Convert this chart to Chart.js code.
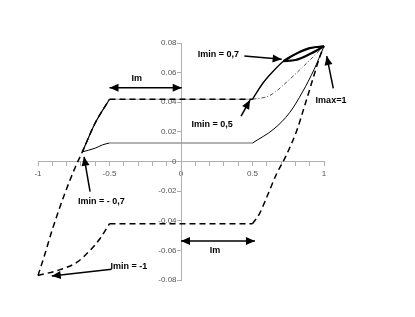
<!DOCTYPE html>
<html>
<head>
<meta charset="utf-8">
<script src="https://cdn.jsdelivr.net/npm/chart.js@4.4.1/dist/chart.umd.min.js"></script>
<style>
html,body{margin:0;padding:0;background:#fff;}
#wrap{width:415px;height:317px;}
</style>
</head>
<body>
<div id="wrap"><canvas id="loopChart" width="415" height="317"></canvas></div>
<script>
// grand cycle (Imin = -1), branche montante
var upLeftX = [-1, -0.95, -0.9, -0.81, -0.74, -0.69, -0.6, -0.5];
var upLeftY = [-0.077, -0.062, -0.046, -0.021, -0.004, 0.0065, 0.026, 0.042];
var flatX = [-0.5, 0.5];
var upFlatY = [0.042, 0.042];
var upRightX = [0.5, 0.566, 0.636, 0.716, 0.8, 0.9, 1];
var upRightY = [0.042, 0.052, 0.06, 0.0677, 0.0725, 0.0765, 0.0778];
// grand cycle, branche descendante
var downRightX = [0.5, 0.55, 0.6, 0.67, 0.73, 0.81, 0.85, 0.92, 0.97, 1];
var downRightY = [-0.042, -0.035, -0.024, -0.008, 0.003, 0.021, 0.033, 0.055, 0.0705, 0.0778];
var downFlatY = [-0.042, -0.042];
var downLeftX = [-1, -0.846, -0.727, -0.636, -0.566, -0.5];
var downLeftY = [-0.077, -0.073, -0.068, -0.06, -0.052, -0.042];
// cycle Imin = -0,7
var m07RightX = [0.5, 0.65, 0.76, 0.85, 0.93, 1];
var m07RightY = [0.0125, 0.022, 0.033, 0.047, 0.062, 0.0778];
var m07FlatY = [0.0125, 0.0125];
var m07LeftX = [-0.69, -0.6, -0.55, -0.5];
var m07LeftY = [0.0065, 0.009, 0.0112, 0.0125];
// cycle Imin = 0,5
var p05X = [0.5, 0.62, 0.76, 0.88, 1];
var p05Y = [0.042, 0.0445, 0.0555, 0.0665, 0.0778];
// cycle Imin = 0,7
var p07X = [0.716, 0.8, 0.9, 1];
var p07Y = [0.0677, 0.0685, 0.0725, 0.0778];

var xTicks = [-1, -0.5, 0, 0.5, 1];

// textes et flèches (unités des axes)
var notes = [
    {text: 'Im', x: -0.31, y: 0.056},
    {text: 'Imin = 0,7', x: 0.262, y: 0.0722},
    {text: 'Imin = 0,5', x: 0.217, y: 0.0253},
    {text: 'Imax=1', x: 1.049, y: 0.041},
    {text: 'Imin = - 0,7', x: -0.556, y: -0.0273},
    {text: 'Imin = -1', x: -0.364, y: -0.0712},
    {text: 'Im', x: 0.238, y: -0.0598}
];
var arrows = [
    {x1: -0.5, y1: 0.0498, x2: 0.005, y2: 0.0498, both: true},
    {x1: 0.443, y1: 0.0712, x2: 0.704, y2: 0.069},
    {x1: 0.42, y1: 0.0307, x2: 0.483, y2: 0.0415},
    {x1: 1.065, y1: 0.0494, x2: 1.019, y2: 0.0712},
    {x1: -0.636, y1: -0.0204, x2: -0.678, y2: 0.0032},
    {x1: -0.485, y1: -0.0728, x2: -0.904, y2: -0.0773},
    {x1: 0, y1: -0.0537, x2: 0.517, y2: -0.0537, both: true}
];

function pts(xs, ys){
    var out = [];
    for(var i=0;i<xs.length;i++){
        out.push({x: xs[i], y: ys[i]});
    }
    return out;
}

function serie(data, color, width, dash, order){
    return {
        data: data,
        borderColor: color,
        borderWidth: width,
        borderDash: dash || [],
        showLine: true,
        pointRadius: 0,
        fill: false,
        cubicInterpolationMode: 'monotone',
        clip: 6,
        order: order
    };
}

var DASH = [6, 4];

var datasets = [
    serie(pts(upLeftX, upLeftY), '#000', 1.5, DASH, 5),
    serie(pts(upLeftX.slice(5), upLeftY.slice(5)), '#000', 1.2, null, 4),
    serie(pts(flatX, upFlatY), '#999', 1, null, 6),
    serie(pts(flatX, upFlatY), '#000', 1.5, DASH, 5),
    serie(pts(upRightX, upRightY), '#000', 1.4, null, 3),
    serie(pts(upRightX.slice(3), upRightY.slice(3)), '#000', 2.2, null, 2),
    serie(pts(p07X, p07Y), '#000', 2.2, null, 2),
    serie(pts(p05X, p05Y), '#555', 1, [4, 2, 1, 2], 4),
    serie(pts(m07RightX, m07RightY), '#000', 1, null, 4),
    serie(pts(flatX, m07FlatY), '#999', 1.5, null, 4),
    serie(pts(m07LeftX, m07LeftY), '#000', 1, null, 4),
    serie(pts(downRightX, downRightY), '#000', 1.5, DASH, 5),
    serie(pts(flatX, downFlatY), '#000', 1.5, DASH, 5),
    serie(pts(downLeftX, downLeftY), '#000', 1.5, DASH, 5)
];

function arrowHead(ctx, x1, y1, x2, y2){
    var a = Math.atan2(y2 - y1, x2 - x1);
    var L = 9, W = 4;
    ctx.beginPath();
    ctx.moveTo(x2, y2);
    ctx.lineTo(x2 - L*Math.cos(a) + W*Math.sin(a), y2 - L*Math.sin(a) - W*Math.cos(a));
    ctx.lineTo(x2 - L*Math.cos(a) - W*Math.sin(a), y2 - L*Math.sin(a) + W*Math.cos(a));
    ctx.closePath();
    ctx.fill();
}

var notesPlugin = {
    id: 'notes',
    afterDatasetsDraw: function(chart){
        var ctx = chart.ctx, sx = chart.scales.x, sy = chart.scales.y;
        ctx.save();
        ctx.strokeStyle = '#000';
        ctx.fillStyle = '#000';
        ctx.lineWidth = 1.5;
        ctx.setLineDash([]);
        arrows.forEach(function(a){
            var x1 = sx.getPixelForValue(a.x1), y1 = sy.getPixelForValue(a.y1);
            var x2 = sx.getPixelForValue(a.x2), y2 = sy.getPixelForValue(a.y2);
            ctx.beginPath();
            ctx.moveTo(x1, y1);
            ctx.lineTo(x2, y2);
            ctx.stroke();
            arrowHead(ctx, x1, y1, x2, y2);
            if(a.both){ arrowHead(ctx, x2, y2, x1, y1); }
        });
        ctx.font = 'bold 9px "Liberation Sans", Arial, sans-serif';
        ctx.textAlign = 'center';
        ctx.textBaseline = 'middle';
        notes.forEach(function(n){
            ctx.fillText(n.text, sx.getPixelForValue(n.x), sy.getPixelForValue(n.y));
        });
        ctx.restore();
    }
};

var ctx = document.getElementById('loopChart').getContext('2d');
var loopChart = new Chart(ctx, {
    type: 'scatter',
    data: {datasets: datasets},
    options: {
        responsive: false,
        animation: false,
        devicePixelRatio: 1,
        layout: {padding: {left: 38, right: 91, top: 43, bottom: 37}},
        plugins: {legend: {display: false}, tooltip: {enabled: false}},
        scales: {
            x: {
                type: 'linear',
                position: {y: 0},
                min: -1, max: 1,
                afterFit: function(s){ s.height = 0; },
                grid: {drawOnChartArea: false, drawTicks: true, tickLength: 4, color: '#b0b0b0'},
                border: {color: '#b0b0b0'},
                ticks: {
                    stepSize: 0.1, autoSkip: false, maxRotation: 0, padding: 3,
                    color: '#555', font: {family: '"Liberation Sans", Arial', size: 8},
                    callback: function(v){
                        var r = Math.round(v*10)/10;
                        return xTicks.indexOf(r) >= 0 ? String(r) : '';
                    }
                }
            },
            y: {
                type: 'linear',
                position: {x: 0},
                min: -0.08, max: 0.08,
                afterFit: function(s){ s.width = 0; },
                grid: {drawOnChartArea: false, drawTicks: true, tickLength: 4, color: '#b0b0b0'},
                border: {color: '#b0b0b0'},
                ticks: {
                    stepSize: 0.02,
                    color: '#555', font: {family: '"Liberation Sans", Arial', size: 8},
                    // libellés décalés à gauche de l'axe
                    callback: function(v){ return parseFloat(v.toFixed(2)).toString() + '  '; }
                }
            }
        }
    },
    plugins: [notesPlugin]
});
</script>
</body>
</html>
